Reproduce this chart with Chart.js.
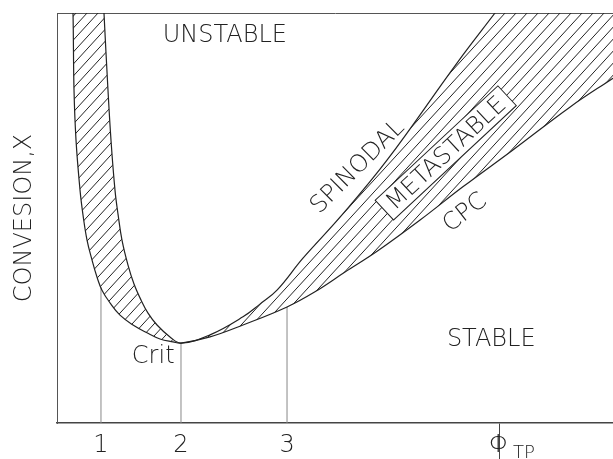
<!DOCTYPE html>
<html>
<head>
<meta charset="utf-8">
<script src="https://cdn.jsdelivr.net/npm/chart.js@4/dist/chart.umd.min.js"></script>
<style>
  html, body { margin: 0; padding: 0; background: #fff; }
  #wrap { width: 613px; height: 459px; }
</style>
</head>
<body>
<div id="wrap"><canvas id="phaseChart"></canvas></div>
<script>
// Cloud point curve (CPC): phi on x (arbitrary units 0..100), conversion on y (0..100)
const cpcX = [2.7, 2.88, 3.06, 3.42, 4.14, 4.68, 5.40, 6.29, 7.19, 8.09, 9.53, 11.33, 13.67, 16.19, 18.53, 20.86, 22.3, 27.52, 33.45, 41.37, 46.4, 51.8, 57.7, 65.3, 73.0, 82.0, 92.3, 100];
const cpcY = [105.6, 100, 81.2, 69.0, 56.8, 50.7, 44.6, 39.8, 35.6, 32.4, 29.3, 26.3, 23.9, 22.0, 20.5, 19.8, 19.5, 21.0, 23.9, 28.3, 32.0, 36.8, 42.0, 49.5, 57.6, 66.6, 77.1, 84.1];

// Spinodal curve (runs off the top of the plot on both sides)
const spinX = [2.7, 8.27, 8.45, 9.17, 9.71, 10.43, 11.0, 11.69, 12.77, 13.85, 15.11, 16.37, 17.99, 20.32, 22.3, 27.52, 33.45, 36.5, 39.57, 44.24, 50.9, 59.35, 71.94, 78.78, 83.27, 100];
const spinY = [300, 105.6, 100, 81.2, 69.0, 56.8, 50.7, 44.6, 38.5, 33.9, 30.0, 26.8, 23.9, 21.0, 19.5, 21.5, 25.9, 29.0, 32.4, 40.2, 50.2, 64.1, 87.8, 100, 108, 140];

// x-axis marks: 1, 2 (critical), 3 and phi_TP
const tickX = [7.91, 22.3, 41.37, 79.5];
const tickLabels = ['1', '2', '3', 'Φ'];
const phiSub = 'TP';
// height where the drop lines from marks 1..3 meet the CPC
const dropY = [33.0, 19.5, 28.3];

const FONT = "'DejaVu Sans', sans-serif";
const INK = '#222';

// text written inside the diagram (data units)
const notes = [
  { text: 'UNSTABLE', x: 30.2, y: 94.4, angle: 0 },
  { text: 'STABLE', x: 78.1, y: 20.2, angle: 0 },
  { text: 'Crit', x: 17.3, y: 16.1, angle: 0 },
  { text: 'SPINODAL', x: 54.1, y: 62.4, angle: -45 },
  { text: 'METASTABLE', x: 70.1, y: 65.6, angle: -43, box: true },
  { text: 'CPC', x: 73.4, y: 51.2, angle: -38 }
];

function toPoints(xs, ys) {
  return xs.map((x, i) => ({ x: x, y: ys[i] }));
}

// diagonal hatch pattern for the metastable band
function makeHatch() {
  const w = 11, h = 12;
  const c = document.createElement('canvas');
  c.width = w;
  c.height = h;
  const g = c.getContext('2d');
  g.strokeStyle = '#222';
  g.lineWidth = 1;
  g.beginPath();
  [-w, 0, w].forEach(dx => {
    g.moveTo(dx, h);
    g.lineTo(dx + w, 0);
  });
  g.stroke();
  return g.createPattern(c, 'repeat');
}

const notesPlugin = {
  id: 'notes',
  afterDatasetsDraw(chart) {
    const { ctx, scales: { x, y } } = chart;
    ctx.save();
    ctx.font = '200 24px ' + FONT;
    ctx.textAlign = 'center';
    ctx.textBaseline = 'middle';
    ctx.lineWidth = 1;
    ctx.strokeStyle = INK;
    notes.forEach(n => {
      ctx.save();
      ctx.translate(x.getPixelForValue(n.x), y.getPixelForValue(n.y));
      ctx.rotate(n.angle * Math.PI / 180);
      if (n.box) {
        const w = ctx.measureText(n.text).width + 14;
        ctx.fillStyle = '#fff';
        ctx.fillRect(-w / 2, -15, w, 27);
        ctx.strokeRect(-w / 2, -15, w, 27);
      }
      ctx.fillStyle = INK;
      ctx.fillText(n.text, 0, 0);
      ctx.restore();
    });
    // subscript of phi_TP
    ctx.font = '200 18px ' + FONT;
    ctx.textAlign = 'left';
    ctx.fillStyle = INK;
    ctx.fillText(phiSub, x.getPixelForValue(tickX[3]) + 14, x.top + 30);
    ctx.restore();
  }
};

const datasets = [
  {
    label: 'CPC',
    data: toPoints(cpcX, cpcY),
    borderColor: INK,
    borderWidth: 1.2,
    pointRadius: 0,
    tension: 0.4,
    fill: false
  },
  {
    label: 'Spinodal',
    data: toPoints(spinX, spinY),
    borderColor: INK,
    borderWidth: 1.2,
    pointRadius: 0,
    tension: 0.4,
    fill: '-1',
    backgroundColor: makeHatch()
  }
];

// vertical drop lines from marks 1, 2, 3 up to the CPC
dropY.forEach((v, i) => {
  datasets.push({
    label: 'drop' + i,
    data: [{ x: tickX[i], y: 0 }, { x: tickX[i], y: v }],
    borderColor: '#888',
    borderWidth: 1,
    pointRadius: 0,
    fill: false,
    tension: 0
  });
});

new Chart(document.getElementById('phaseChart'), {
  type: 'line',
  data: { datasets: datasets },
  options: {
    responsive: true,
    maintainAspectRatio: false,
    animation: false,
    layout: { padding: 0 },
    elements: {
      line: { capBezierPoints: false }
    },
    datasets: { line: { clip: 0 } },
    plugins: {
      legend: { display: false },
      tooltip: { enabled: false }
    },
    scales: {
      x: {
        type: 'linear',
        position: 'bottom',
        min: 0,
        max: 100,
        afterBuildTicks: scale => {
          scale.ticks = tickX.map(v => ({ value: v }));
        },
        afterFit: scale => { scale.height = 36; },
        ticks: {
          autoSkip: false,
          maxRotation: 0,
          padding: -28,
          color: INK,
          font: { family: FONT, size: 24, weight: '200' },
          callback: value => tickLabels[tickX.indexOf(value)]
        },
        grid: {
          drawOnChartArea: false,
          tickLength: 36,
          color: c => (c.tick && c.tick.value === tickX[3] ? '#444' : 'rgba(0,0,0,0)')
        },
        border: { display: true, color: '#444', width: 1.5 }
      },
      x2: {
        type: 'linear',
        position: 'top',
        min: 0,
        max: 100,
        ticks: { display: false },
        grid: { display: false },
        afterFit: scale => { scale.height = 13; },
        border: { display: true, color: '#555', width: 1 }
      },
      y: {
        type: 'linear',
        min: 0,
        max: 100,
        ticks: { display: false },
        grid: { display: false },
        afterFit: scale => { scale.width = 57; },
        border: { display: true, color: '#555', width: 1 },
        title: {
          display: true,
          text: 'CONVESION,X',
          color: INK,
          padding: { top: 10, bottom: 0 },
          font: { family: FONT, size: 24, weight: '200' }
        }
      }
    }
  },
  plugins: [notesPlugin]
});
</script>
</body>
</html>
